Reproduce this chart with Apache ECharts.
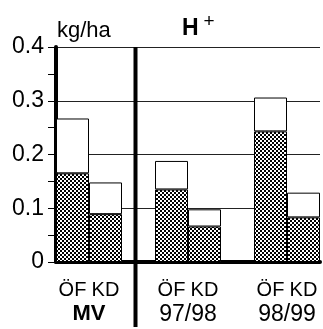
<!DOCTYPE html>
<html>
<head>
<meta charset="utf-8">
<script src="https://cdn.jsdelivr.net/npm/echarts@6/dist/echarts.min.js"></script>
<style>
  html, body { margin: 0; padding: 0; background: #fff; }
  #chart { width: 323px; height: 329px; }
</style>
</head>
<body>
<div id="chart"></div>
<script>
const groups = ["MV", "97/98", "98/99"];
const kinds = ["ÖF", "KD"];
// hatched lower part and total bar height, kg/ha
const ofHatched = [0.165, 0.135, 0.243];
const ofTotal = [0.267, 0.188, 0.306];
const kdHatched = [0.089, 0.066, 0.083];
const kdTotal = [0.148, 0.098, 0.129];
const yTicks = [0, 0.1, 0.2, 0.3, 0.4];

const font = "Liberation Sans";

// build the 8 slots: ÖF, KD, gap, ÖF, KD, gap, ÖF, KD
let slots = [];
let hatched = [];
let rest = [];
groups.forEach((g, i) => {
  slots.push(g + "|" + kinds[0], g + "|" + kinds[1]);
  hatched.push(ofHatched[i], kdHatched[i]);
  rest.push(+(ofTotal[i] - ofHatched[i]).toFixed(3), +(kdTotal[i] - kdHatched[i]).toFixed(3));
  if (i < groups.length - 1) {
    slots.push(g + "|");
    hatched.push(null);
    rest.push(null);
  }
});

// group labels sit on slot boundaries
let groupTicks = [];
for (let i = 0; i <= slots.length; i++) groupTicks.push("t" + i);
let groupNames = {};
groups.forEach((g, i) => { groupNames["t" + (i * 3 + 1)] = g; });

function makePattern() {
  const c = document.createElement("canvas");
  c.width = 4; c.height = 4;
  const ctx = c.getContext("2d");
  ctx.fillStyle = "#000";
  ctx.fillRect(0, 0, 4, 4);
  ctx.fillStyle = "#fff";
  ctx.fillRect(0, 0, 2, 2);
  ctx.fillRect(2, 2, 2, 2);
  return c;
}

let chart = echarts.init(document.getElementById("chart"), null, { renderer: "canvas" });

const option = {
  animation: false,
  backgroundColor: "#fff",
  title: [
    {
      text: "kg/ha", left: 57, top: 20, padding: 0,
      textStyle: { fontFamily: font, fontSize: 22, fontWeight: "normal", color: "#000" }
    },
    {
      text: "{h|H}{s|+}", left: 182, top: 12, padding: 0,
      textStyle: {
        rich: {
          h: { fontFamily: font, fontSize: 23, fontWeight: "bold", color: "#000" },
          s: { fontFamily: font, fontSize: 19, fontWeight: "normal", color: "#000", padding: [0, 0, 14, 5] }
        }
      }
    }
  ],
  grid: { left: 56, right: -4, top: 47, bottom: 67 },
  xAxis: [
    {
      type: "category",
      data: slots,
      axisLine: { show: true, lineStyle: { color: "#000", width: 4 } },
      axisTick: { show: false },
      axisLabel: {
        interval: 0, margin: 18,
        fontFamily: font, fontSize: 20, color: "#000",
        formatter: v => v.split("|")[1]
      },
      splitLine: { show: false }
    },
    {
      type: "category",
      position: "bottom",
      offset: 0,
      boundaryGap: false,
      data: groupTicks,
      axisLine: { show: false },
      axisTick: { show: false },
      axisLabel: {
        interval: 0, margin: 41,
        formatter: v => {
          const n = groupNames[v] || "";
          if (!n) return "";
          return n === "MV" ? "{b|" + n + "}" : "{r|" + n + "}";
        },
        rich: {
          b: { fontFamily: font, fontSize: 22, fontWeight: "bold", color: "#000" },
          r: { fontFamily: font, fontSize: 23, color: "#000" }
        }
      },
      splitLine: { show: false }
    }
  ],
  yAxis: {
    type: "value",
    min: yTicks[0],
    max: yTicks[yTicks.length - 1],
    interval: 0.1,
    axisLine: { show: true, lineStyle: { color: "#000", width: 4 } },
    axisTick: { show: true, length: 8, lineStyle: { color: "#000", width: 1 } },
    minorTick: { show: true, splitNumber: 2, length: 8, lineStyle: { color: "#000", width: 1 } },
    axisLabel: {
      margin: 12,
      fontFamily: font, fontSize: 23, color: "#000",
      formatter: v => (v === 0 ? "0" : v.toFixed(1))
    },
    splitLine: { show: true, lineStyle: { color: "#222", width: 1 } }
  },
  series: [
    {
      type: "bar",
      stack: "h",
      data: hatched,
      barWidth: "100%",
      itemStyle: {
        color: { image: makePattern(), repeat: "repeat" },
        borderColor: "#000",
        borderWidth: 1
      }
    },
    {
      type: "bar",
      stack: "h",
      data: rest,
      barWidth: "100%",
      itemStyle: { color: "#fff", borderColor: "#000", borderWidth: 1 }
    }
  ]
};

chart.setOption(option);

// vertical divider between MV and the years
const gapX = chart.convertToPixel({ xAxisIndex: 0 }, slots[2]) - 3;
const topY = chart.convertToPixel({ yAxisIndex: 0 }, yTicks[yTicks.length - 1]);
chart.setOption({
  graphic: [{
    type: "line",
    shape: { x1: gapX, y1: topY, x2: gapX, y2: 327 },
    style: { stroke: "#000", lineWidth: 4 },
    z: 100
  }]
});
</script>
</body>
</html>
